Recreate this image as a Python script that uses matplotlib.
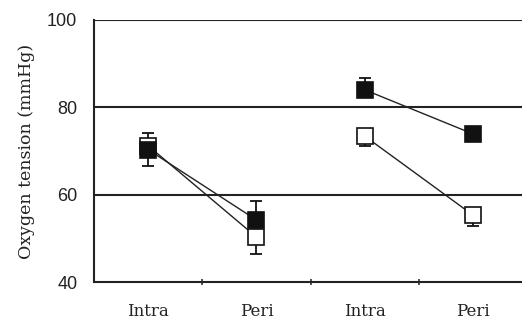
import matplotlib
matplotlib.use("Agg")
import matplotlib.pyplot as plt
import numpy as np

categories = ["Intra", "Peri", "Intra", "Peri"]
# Group 1 (positions 1,2) and group 2 (positions 3,4)
black_vals = [70.3, 54.2, 84.0, 73.9]
black_err_up = [3.8, 4.3, 2.8, 0.8]
white_vals = [71.2, 50.3, 73.4, 55.3]
white_err_low = [4.6, 3.9, 2.3, 2.5]
yticks = [40, 60, 80, 100]

fig = plt.figure(figsize=(5.22, 3.27), dpi=100)
ax = fig.add_axes([0.18, 0.1376, 0.83, 0.8014])

x = np.arange(1, 5)

# grid lines
for yv in [60, 80, 100]:
    ax.axhline(yv, color="#222222", lw=1.5, zorder=0)

# connecting lines
for i0 in (0, 2):
    ax.plot(x[i0:i0 + 2], white_vals[i0:i0 + 2], color="#222222", lw=1.0, zorder=1)
    ax.plot(x[i0:i0 + 2], black_vals[i0:i0 + 2], color="#222222", lw=1.0, zorder=1)

# error bars (one-sided)
ax.errorbar(x, white_vals, yerr=[white_err_low, [0] * 4], fmt="none",
            ecolor="#111111", elinewidth=1.3, capsize=4.2, capthick=1.3, zorder=2)
ax.errorbar(x, black_vals, yerr=[[0] * 4, black_err_up], fmt="none",
            ecolor="#111111", elinewidth=1.3, capsize=4.2, capthick=1.3, zorder=2)

ax.plot(x, white_vals, linestyle="none", marker="s", markersize=12,
        markerfacecolor="white", markeredgecolor="#111111", markeredgewidth=1.2, zorder=3)
ax.plot(x, black_vals, linestyle="none", marker="s", markersize=12,
        markerfacecolor="#111111", markeredgecolor="#111111", markeredgewidth=1.2, zorder=4)

ax.set_xlim(0.5, 4.5)
ax.set_ylim(40, 100)
ax.set_yticks(yticks)
ax.set_yticklabels([str(v) for v in yticks], fontfamily="Liberation Sans", fontsize=13, color="#222222")
ax.tick_params(axis="y", length=0, pad=12)

ax.set_xticks(x)
ax.set_xticklabels(categories, fontfamily="DejaVu Serif", fontsize=12, color="#222222")
ax.set_xticks([1.5, 2.5, 3.5], minor=True)
ax.tick_params(axis="x", which="major", length=0, pad=15)
ax.tick_params(axis="x", which="minor", length=5, direction="inout", width=1.2, color="#333333")

for s in ["top", "right"]:
    ax.spines[s].set_visible(False)
ax.spines["left"].set_linewidth(1.5)
ax.spines["bottom"].set_linewidth(1.5)
ax.spines["left"].set_color("#222222")
ax.spines["bottom"].set_color("#222222")

ax.set_ylabel("Oxygen tension (mmHg)", fontfamily="DejaVu Serif", fontsize=12.5,
              color="#222222", labelpad=9)

fig.savefig("out.png", dpi=100)
